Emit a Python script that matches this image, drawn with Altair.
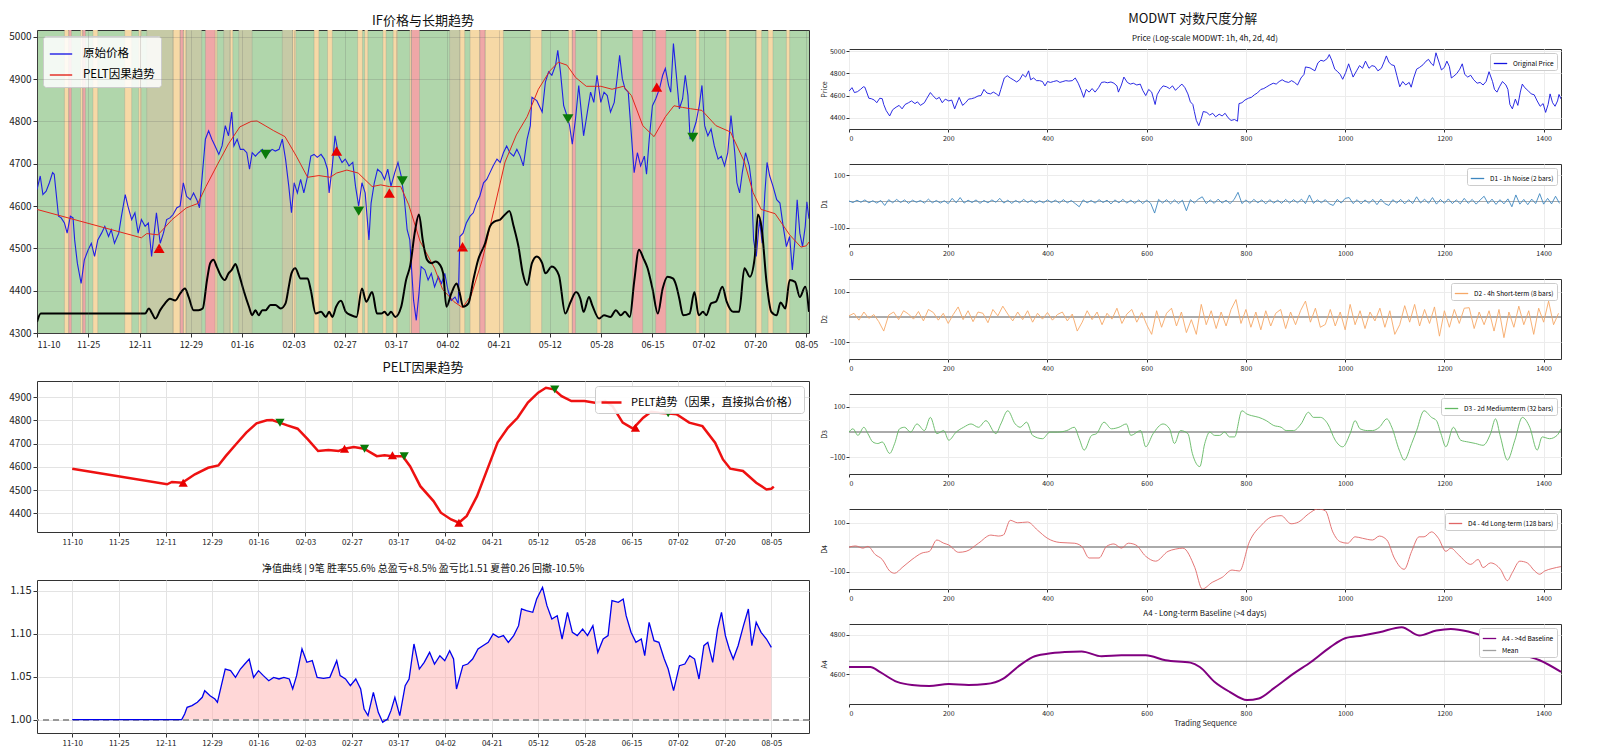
import altair as alt
import pandas as pd

FONT = "Noto Sans CJK SC"

# ---------------- x ticks (trading-bar index -> date label) ----------------
TICK_IDX = [0, 95, 191, 286, 381, 477, 572, 667, 763, 858, 953, 1049, 1144, 1239, 1335, 1430]
TICK_LBL = ["11-10", "11-25", "12-11", "12-29", "01-16", "02-03", "02-27", "03-17",
            "04-02", "04-21", "05-12", "05-28", "06-15", "07-02", "07-20", "08-05"]
LAST_BAR = 1435

# ---------------- original price ----------------
PRICE_I = [0, 6, 11, 17, 23, 29, 32, 40, 45, 51,
           56, 62, 67, 70, 75, 82, 88, 95, 101, 107,
           113, 120, 126, 133, 138, 144, 152, 157, 164, 169,
           176, 182, 188, 194, 201, 207, 213, 222, 229, 235,
           241, 247, 253, 260, 266, 272, 278, 285, 291, 297,
           302, 306, 313, 319, 325, 331, 338, 344, 350, 356,
           362, 366, 372, 378, 384, 390, 395, 400, 406, 412,
           419, 425, 431, 437, 443, 450, 456,
           462, 468, 473, 478, 484, 490, 496, 503, 509, 515,
           521, 528, 534, 540, 543, 549, 554, 561, 567, 573,
           580, 587, 592, 598, 604, 610, 617, 621, 627, 633,
           640, 646, 652, 658, 665, 671, 677, 683, 688, 693,
           696, 700, 705, 710, 714, 721, 727, 733, 739, 746,
           752, 758, 764, 770, 777, 783, 786, 792, 798, 805,
           811, 817, 823, 830, 836, 842, 848, 855, 861, 867,
           873, 879, 886, 892, 898, 904, 911, 917, 920, 929,
           939, 945, 951, 957, 964, 968, 973, 979, 985, 990,
           995, 1001, 1007, 1013, 1016, 1023, 1029, 1035, 1041, 1048,
           1054, 1060, 1066, 1073, 1079, 1083, 1088, 1093, 1099, 1104,
           1110, 1116, 1122, 1129, 1133, 1138, 1144, 1150, 1157, 1163,
           1168, 1174, 1178, 1183, 1189, 1194, 1200, 1205, 1210, 1214,
           1219, 1225, 1231, 1236, 1241, 1247, 1253, 1259, 1266, 1272,
           1278, 1284, 1290, 1297, 1301, 1306, 1311, 1317, 1324, 1328,
           1332, 1337, 1343, 1348, 1353, 1357, 1362, 1368, 1375, 1381,
           1387, 1393, 1399, 1404, 1409, 1413, 1418, 1423, 1428, 1431,
           1435]
PRICE_V = [4639, 4671, 4627, 4635, 4655, 4679, 4675, 4576, 4572, 4560,
           4536, 4576, 4572, 4520, 4465, 4417, 4473, 4496, 4512, 4481,
           4520, 4536, 4552, 4528, 4544, 4512, 4536, 4576, 4627, 4600,
           4568, 4584, 4536, 4568, 4552, 4560, 4481, 4584, 4512, 4536,
           4568, 4572, 4580, 4596, 4600, 4655, 4623, 4615, 4631, 4615,
           4596, 4655, 4758, 4778, 4758, 4742, 4722, 4742, 4790, 4766,
           4822, 4742, 4758, 4734, 4734, 4726, 4687, 4726, 4718, 4726,
           4734, 4718, 4726, 4734, 4730, 4734, 4758,
           4711, 4647, 4584, 4655, 4631, 4663, 4631, 4671, 4718, 4722,
           4715, 4722, 4711, 4687, 4631, 4695, 4766, 4718, 4703, 4711,
           4695, 4703, 4647, 4600, 4655, 4631, 4520, 4607, 4655, 4687,
           4679, 4663, 4687, 4647, 4679, 4703, 4671, 4615, 4544, 4520,
           4457, 4377, 4330, 4393, 4457, 4449, 4425, 4441, 4409, 4433,
           4417, 4441, 4401, 4377, 4385, 4370, 4528, 4536, 4560, 4576,
           4584, 4607, 4623, 4655, 4663, 4679, 4695, 4711, 4703, 4726,
           4742, 4726, 4718, 4734, 4718, 4695, 4758, 4790, 4857, 4849,
           4822, 4893, 4917, 4909, 4933, 4968, 4917, 4837, 4814, 4790,
           4746, 4806, 4885, 4806, 4766, 4822, 4869, 4845, 4909, 4845,
           4869, 4861, 4822, 4845, 4909, 4956, 4901, 4877, 4869, 4782,
           4679, 4726, 4695, 4718, 4675, 4758, 4837, 4853, 4877, 4909,
           4925, 4885, 4869, 4984, 4901, 4830, 4853, 4909, 4861, 4758,
           4774, 4798, 4837, 4885, 4790, 4766, 4782, 4742, 4711, 4718,
           4695, 4726, 4814, 4726, 4655, 4631, 4679, 4726, 4695, 4655,
           4520, 4481, 4568, 4512, 4631, 4703, 4671, 4647, 4615, 4607,
           4552, 4504, 4528, 4449, 4520, 4615, 4536, 4504, 4552, 4610,
           4570]

# ---------------- PELT causal trend ----------------
TREND_I = [0, 194, 204, 225, 251, 278, 299, 314, 335, 356,
           377, 398, 409, 424, 440, 461, 482, 503, 524, 545,
           557, 576, 597, 623, 639, 655, 676, 691, 712, 739,
           754, 775, 791, 807, 828, 849, 870, 891, 911, 932,
           953, 969, 985, 1001, 1021, 1048, 1069, 1090, 1105, 1126,
           1147, 1168, 1184, 1200, 1215, 1236, 1262, 1289, 1315, 1331,
           1346, 1372, 1399, 1420, 1430, 1435]
TREND_V = [4592, 4525, 4535, 4532, 4568, 4596, 4606, 4646, 4697, 4747,
           4787, 4800, 4801, 4790, 4778, 4764, 4718, 4668, 4672, 4668,
           4678, 4685, 4678, 4646, 4650, 4646, 4646, 4603, 4517, 4453,
           4403, 4374, 4360, 4389, 4474, 4589, 4704, 4768, 4811, 4876,
           4919, 4940, 4933, 4904, 4883, 4883, 4876, 4883, 4861, 4790,
           4764, 4811, 4837, 4833, 4830, 4826, 4790, 4775, 4704, 4632,
           4592, 4582, 4532, 4503, 4506, 4515]

# ---------------- black oscillator drawn on the price axis ----------------
OSC_I = [0, 7, 201, 208, 214, 220, 229, 238, 247, 257,
         266, 275, 282, 291, 300, 308, 316, 322, 328, 334,
         341, 349, 356, 362, 369, 375, 384, 394, 400, 406,
         412, 419, 425, 434, 443, 453, 462, 468, 473, 480,
         490, 503, 509, 518, 528, 537, 543, 549, 556, 565,
         574, 584, 594, 604, 612, 623, 632, 640, 646, 652,
         658, 666, 677, 686, 694, 702, 710, 717, 725, 733,
         741, 749, 755, 761, 770, 780, 786, 792, 802, 811,
         820, 833, 842, 851, 861, 870, 878, 886, 895, 903,
         911, 920, 929, 939, 945, 957, 970, 982, 992, 1002,
         1010, 1016, 1026, 1032, 1045, 1054, 1066, 1076, 1085, 1093,
         1102, 1110, 1119, 1127, 1135, 1144, 1154, 1163, 1172, 1182,
         1188, 1194, 1201, 1213, 1222, 1230, 1238, 1244, 1253, 1262,
         1274, 1282, 1294, 1305, 1315, 1325, 1334, 1340, 1347, 1356,
         1365, 1375, 1382, 1391, 1399, 1409, 1418, 1428, 1435]
OSC_V = [4326, 4346, 4346, 4358, 4346, 4334, 4354, 4370, 4381, 4377,
         4393, 4405, 4385, 4354, 4354, 4358, 4425, 4465, 4473, 4457,
         4437, 4425, 4441, 4449, 4463, 4441, 4401, 4362, 4342, 4354,
         4342, 4354, 4354, 4366, 4366, 4358, 4370, 4409, 4441, 4453,
         4429, 4429, 4401, 4346, 4350, 4338, 4350, 4338, 4362, 4376,
         4350, 4342, 4338, 4405, 4374, 4397, 4346, 4346, 4350, 4342,
         4350, 4338, 4362, 4425, 4461, 4536, 4580, 4520, 4473, 4465,
         4469, 4461, 4441, 4362, 4393, 4417, 4393, 4362, 4370, 4425,
         4473, 4512, 4552, 4564, 4568, 4580, 4588, 4552, 4504, 4441,
         4413, 4465, 4481, 4465, 4441, 4457, 4437, 4346, 4374, 4397,
         4381, 4350, 4385, 4366, 4334, 4342, 4338, 4354, 4342, 4350,
         4338, 4421, 4497, 4477, 4453, 4405, 4346, 4405, 4433, 4429,
         4413, 4381, 4342, 4346, 4397, 4342, 4350, 4342, 4370, 4374,
         4409, 4374, 4350, 4350, 4453, 4433, 4477, 4580, 4548, 4421,
         4350, 4342, 4372, 4358, 4425, 4421, 4385, 4409, 4350]

# ---------------- signals ----------------
LONG_I = [227, 557, 655, 791, 1152]
LONG_PRICE = [4500, 4730, 4631, 4504, 4881]
LONG_TREND = [4532, 4678, 4650, 4360, 4768]
SHORT_I = [425, 598, 679, 987, 1219]
SHORT_PRICE = [4722, 4588, 4659, 4806, 4762]
SHORT_TREND = [4790, 4678, 4646, 4933, 4830]

# ---------------- regime background (default = trend / green) ----------------
REG_S = [51, 59, 81, 85, 104, 163, 189, 204, 253, 266,
         272, 277, 313, 331, 347, 359, 375, 456, 475, 515,
         540, 596, 609, 643, 662, 693, 696, 767, 786, 805,
         823, 833, 917, 988, 995, 1041, 1107, 1150, 1225, 1281,
         1337, 1359, 1393]
REG_E = [59, 64, 85, 90, 113, 176, 194, 253, 266, 272,
         277, 306, 333, 335, 359, 364, 400, 475, 481, 524,
         549, 605, 615, 649, 670, 696, 711, 786, 795, 823,
         833, 867, 938, 995, 1001, 1048, 1126, 1169, 1231, 1287,
         1347, 1368, 1399]
REG_K = ["O", "R", "O", "R", "O", "O", "O", "T", "O", "R",
         "O", "T", "R", "O", "T", "O", "T", "T", "O", "O",
         "O", "O", "O", "O", "O", "O", "R", "T", "O", "O",
         "R", "O", "O", "O", "R", "O", "R", "R", "O", "O",
         "O", "O", "O"]

# ---------------- equity curve ----------------
EQ_I = [0, 224, 230, 235, 245, 256, 266, 271, 282, 292,
        297, 305, 313, 324, 334, 344, 353, 362, 371, 381,
        391, 402, 412, 423, 433, 444, 451, 459, 470, 480,
        491, 501, 514, 527, 541, 548, 559, 569, 580, 590,
        597, 605, 616, 626, 635, 645, 652, 660, 670, 681,
        689, 699, 710, 720, 731, 741, 752, 762, 772, 780,
        786, 799, 809, 819, 830, 840, 851, 861, 872, 882,
        892, 903, 913, 919, 929, 942, 950, 962, 971, 981,
        992, 1002, 1013, 1023, 1033, 1044, 1054, 1065, 1075, 1086,
        1096, 1104, 1117, 1127, 1133, 1143, 1153, 1164, 1171, 1180,
        1190, 1200, 1211, 1219, 1230, 1242, 1253, 1263, 1273, 1282,
        1292, 1300, 1310, 1320, 1328, 1336, 1344, 1352, 1362, 1373,
        1383, 1390, 1399, 1409, 1420, 1430]
EQ_V = [1.0, 1.0, 1.0066, 1.0143, 1.0163, 1.0202, 1.026, 1.0337, 1.0279, 1.024,
        1.0202, 1.0395, 1.0589, 1.057, 1.0492, 1.0589, 1.0647, 1.0705, 1.0492, 1.057,
        1.0512, 1.0453, 1.0492, 1.0473, 1.0492, 1.0473, 1.0357, 1.0512, 1.0822, 1.0667,
        1.0686, 1.0492, 1.0481, 1.0492, 1.0686, 1.0512, 1.0473, 1.0395, 1.0473, 1.0357,
        1.0124, 1.0047, 1.0318, 1.0085, 0.9969, 1.0008, 1.0105, 1.026, 1.0047, 1.0395,
        1.0473, 1.088, 1.0589, 1.0667, 1.0783, 1.0647, 1.0744, 1.0686, 1.0802, 1.0705,
        1.0357, 1.0628, 1.0647, 1.0705, 1.0822, 1.086, 1.0899, 1.0996, 1.0957, 1.0977,
        1.0899, 1.0977, 1.1093, 1.1287, 1.1267, 1.1248, 1.1403, 1.1539, 1.1326, 1.1171,
        1.1209, 1.0938, 1.1248, 1.1016, 1.0977, 1.1054, 1.0977, 1.1093, 1.0783, 1.0938,
        1.0977, 1.1384, 1.1364, 1.1403, 1.1209, 1.1016, 1.0899, 1.0938, 1.0744, 1.1132,
        1.0919, 1.0899, 1.0705, 1.0589, 1.0337, 1.0628, 1.0647, 1.0744, 1.0705, 1.0473,
        1.086, 1.0899, 1.0667, 1.1054, 1.1248, 1.0977, 1.0822, 1.0705, 1.086, 1.1093,
        1.1287, 1.086, 1.1132, 1.1016, 1.0938, 1.0841]

# ---------------- MODWT details (D1 every 8 bars, D2 every 10 bars) ----------------
D1_STEP = 8
D1_V = [2, -4, 5, -3, 6, -5, 3, -6, 4, -15,
        7, -5, 8, -4, 6, -7, 5, -3, 4, -6,
        9, -5, 4, -6, 3, -8, 12, -5, 15, -6,
        5, -4, 6, -7, 4, -5, 6, -3, 12, -6,
        5, -7, 4, -5, 8, -4, 5, -6, 3, -5,
        6, -4, 5, -6, 7, -5, 4, -8, -20, 6,
        -5, 4, -6, 7, -4, 5, -9, 6, -5, 8,
        -6, 5, -7, 6, -8, 5, -7, -44, 8, -6,
        7, -9, 6, -8, 5, -35, 7, -6, 9, 18,
        -8, 6, -7, 9, -6, 5, -8, 7, 35, -8,
        6, -7, 8, -5, 6, -9, 7, -6, 5, -7,
        8, -6, 7, -5, 9, -8, 25, -7, 6, -5,
        7, -9, -15, 8, -6, 12, 15, -8, 7, -9,
        6, -7, 8, -12, 9, -8, -15, 7, -6, 8,
        -9, 7, -8, 18, -6, 9, -7, 15, -10, 8,
        -7, 10, -8, 6, -9, 12, -7, 8, -10, 6,
        20, -8, 9, -11, 7, -9, 10, -20, 25, -10,
        8, -12, 9, -8, 30, -10, 12, -9, 20, -7]
D2_STEP = 10
D2_V = [5, 15, -12, 20, -5, 10, -18, -55, 8, 20,
        -10, 25, 12, -8, 22, -15, 30, 18, -12, 15,
        -25, 10, 40, -10, 25, -18, 20, 15, -22, 30,
        5, 43, 12, -15, 20, -10, 25, -20, 15, -8,
        18, -12, 10, 20, -15, 12, -55, -20, 25, -10,
        20, -30, 15, -8, 35, -25, 12, 30, -20, 18,
        -30, -68, 25, -40, 15, 35, -35, 20, -61, -10,
        -68, 50, -30, 25, -45, 20, -35, 30, 69, -25,
        30, -40, 20, -50, 25, -35, 15, 30, -45, 20,
        -30, 25, 63, -20, 35, -40, -29, 30, -35, 20,
        -50, 50, -30, 25, -45, 20, -15, 35, -40, 25,
        -68, -30, 45, -20, 50, -35, 30, -25, 40, -75,
        25, -40, 30, -25, 35, 37, -45, 20, -30, 25,
        -55, 30, -81, 20, -40, 43, -30, 25, -68, 35,
        -20, 63, -30, 15]
D3_I = [0, 8, 18, 30, 38, 48, 58, 67, 82, 92,
        102, 112, 124, 137, 152, 164, 177, 191, 201, 216,
        231, 246, 261, 276, 296, 306, 320, 335, 345, 358,
        370, 390, 405, 420, 439, 454, 464, 474, 489, 499,
        514, 529, 544, 559, 568, 588, 598, 613, 633, 646,
        656, 668, 683, 692, 707, 717, 727, 737, 747, 757,
        767, 777, 792, 802, 811, 826, 841, 856, 871, 881,
        896, 911, 926, 936, 950, 965, 980, 995, 1010, 1020,
        1030, 1045, 1055, 1069, 1084, 1094, 1109, 1119, 1134, 1144,
        1159, 1174, 1184, 1193, 1203, 1218, 1233, 1248, 1263, 1278,
        1293, 1303, 1313, 1327, 1342, 1357, 1372, 1387, 1397, 1412,
        1427, 1435]
D3_V = [0, 13, -13, 19, -6, -39, -45, -39, -84, -45,
        13, 19, 0, 32, 6, 58, -6, 6, -32, 0,
        19, 32, 19, 45, -6, 32, 84, 32, 19, 39,
        -13, -26, 0, 0, 6, 19, -26, -71, -13, -6,
        39, 13, 19, 32, -13, 6, -58, -6, 32, 13,
        -45, 6, -6, -84, -136, -45, 0, -13, -13, 0,
        -19, -19, 84, 71, 65, 58, 45, 26, 19, 6,
        6, 32, 78, 58, 58, 32, -32, -58, -6, 45,
        13, 6, 6, 19, 52, 19, -71, -110, -45, 6,
        84, 58, 45, -6, -58, 19, -32, -39, -45, -52,
        -6, 52, -19, -110, -32, 58, 19, -71, -19, -26,
        -13, 13]
D4_I = [0, 13, 28, 38, 53, 67, 82, 92, 107, 127,
        147, 162, 177, 191, 201, 221, 236, 261, 286, 301,
        311, 325, 340, 360, 380, 400, 425, 454, 469, 484,
        504, 519, 534, 549, 563, 578, 598, 618, 643, 658,
        673, 697, 712, 732, 752, 772, 787, 807, 831, 851,
        871, 891, 906, 926, 945, 960, 975, 990, 1005, 1020,
        1035, 1055, 1069, 1084, 1099, 1119, 1134, 1149, 1159, 1174,
        1188, 1203, 1213, 1228, 1253, 1268, 1278, 1293, 1313, 1327,
        1337, 1352, 1367, 1382, 1392, 1402, 1417, 1435]
D4_V = [0, 5, -4, 3, -30, -50, -97, -106, -83, -50,
        -24, -17, 29, 16, 9, -21, -17, 16, 49, 45,
        49, 109, 99, 102, 69, 36, 19, 16, 3, -44,
        -44, 3, 13, -4, 16, 9, -37, -57, -17, -8,
        -4, -83, -170, -143, -123, -93, -97, 22, 89, 122,
        128, 95, 102, 135, 155, 148, 62, 22, 16, 42,
        36, 29, 45, 29, -44, -90, -17, 42, 42, 62,
        36, -17, -4, -30, -70, -50, -83, -64, -90, -136,
        -103, -57, -64, -97, -110, -97, -87, -79]
A4_I = [0, 43, 62, 97, 127, 162, 201, 241, 276, 311,
        340, 370, 400, 435, 469, 509, 549, 598, 638, 688,
        707, 737, 767, 802, 826, 856, 896, 931, 970, 1000,
        1035, 1069, 1114, 1149, 1184, 1213, 1248, 1283, 1313, 1352,
        1392, 1435]
A4_V = [4637, 4637, 4612, 4561, 4545, 4540, 4550, 4545, 4550, 4578,
        4637, 4687, 4704, 4713, 4716, 4691, 4696, 4696, 4671, 4659,
        4637, 4561, 4511, 4469, 4477, 4528, 4603, 4662, 4738, 4783,
        4797, 4813, 4839, 4797, 4822, 4830, 4817, 4788, 4750, 4704,
        4671, 4612]
A4_MEAN = 4666

# ---------------- colours ----------------
C_GREEN = "#b0d6ab"
REG_COLORS = {"O": "#f6d9a6", "R": "#efa7a7", "T": "#c6caa6"}

# ---------------- layout ----------------
W_L, H_TOP, H_MID, H_BOT, GAP_L = 772, 303, 151, 153, 48
W_R, H_R, GAP_R = 712, 80, 35


def label_expr():
    e = "''"
    for v, l in reversed(list(zip(TICK_IDX, TICK_LBL))):
        e = f"datum.value == {v} ? '{l}' : {e}"
    return e


LBL = label_expr()

df_price = pd.DataFrame({"i": PRICE_I, "v": PRICE_V, "s": "原始价格"})
df_trend = pd.DataFrame({"i": TREND_I, "v": TREND_V, "s": "PELT因果趋势"})
df_trend2 = pd.DataFrame({"i": TREND_I, "v": TREND_V, "s": "PELT趋势（因果，直接拟合价格）"})
df_osc = pd.DataFrame({"i": OSC_I, "v": OSC_V})
df_long_top = pd.DataFrame({"i": LONG_I, "v": LONG_PRICE})
df_short_top = pd.DataFrame({"i": SHORT_I, "v": SHORT_PRICE})
df_long_mid = pd.DataFrame({"i": LONG_I, "v": LONG_TREND})
df_short_mid = pd.DataFrame({"i": SHORT_I, "v": SHORT_TREND})
df_reg = pd.DataFrame({"s": REG_S, "e": REG_E, "k": REG_K})
df_edges = pd.DataFrame({"x": REG_S + REG_E})
df_eq = pd.DataFrame({"i": EQ_I, "v": EQ_V})

# ================= left column =================
sc_x_top = alt.Scale(domain=[0, LAST_BAR], nice=False, zero=False)
ax_x_top = alt.Axis(values=TICK_IDX, labelExpr=LBL, grid=True, zindex=1, labelFontSize=9,
                    gridColor="#666", gridOpacity=0.22, tickSize=4, labelPadding=3)
ax_y_top = alt.Axis(values=list(range(4300, 5001, 100)), format="d", grid=True, zindex=1, labelFontSize=10,
                    gridColor="#666", gridOpacity=0.22, tickSize=4, labelPadding=2)
X_TOP = alt.X("i:Q", scale=sc_x_top, axis=ax_x_top, title=None)
Y_TOP = alt.Y("v:Q", scale=alt.Scale(domain=[4300, 5016], nice=False, zero=False), axis=ax_y_top, title=None)

leg_top = alt.Legend(title=None, orient="top-left", offset=6, fillColor="rgba(255,255,255,0.85)",
                     strokeColor="#cccccc", padding=6, cornerRadius=3, labelFontSize=11.5,
                     symbolType="stroke", symbolSize=500, symbolStrokeWidth=1.4, rowPadding=3,
                     labelOffset=10, labelLimit=0)
col_top = alt.Scale(domain=["原始价格", "PELT因果趋势"], range=["#1f1fe6", "#e3261c"])

bg = alt.Chart(df_reg).mark_rect(opacity=1).encode(
    x=alt.X("s:Q", scale=sc_x_top, axis=ax_x_top, title=None), x2="e:Q",
    fill=alt.Fill("k:N", scale=alt.Scale(domain=list(REG_COLORS), range=list(REG_COLORS.values())), legend=None))
edges = alt.Chart(df_edges).mark_rule(color="#777777", opacity=0.3, strokeWidth=0.7).encode(
    x=alt.X("x:Q", scale=sc_x_top, axis=ax_x_top, title=None))
price_l = alt.Chart(df_price).mark_line(strokeWidth=1.1, clip=True).encode(
    x=X_TOP, y=Y_TOP, color=alt.Color("s:N", scale=col_top, legend=leg_top))
trend_l = alt.Chart(df_trend).mark_line(strokeWidth=1, clip=True).encode(
    x=X_TOP, y=Y_TOP, color=alt.Color("s:N", scale=col_top, legend=leg_top))
osc_l = alt.Chart(df_osc).mark_line(color="black", strokeWidth=2, interpolate="monotone", clip=True).encode(
    x=X_TOP, y=Y_TOP)
up_top = alt.Chart(df_long_top).mark_point(shape="triangle-up", filled=True, size=120, color="#e80000", opacity=1).encode(
    x=X_TOP, y=Y_TOP)
dn_top = alt.Chart(df_short_top).mark_point(shape="triangle-down", filled=True, size=120, color="#0a7a0a", opacity=1).encode(
    x=X_TOP, y=Y_TOP)

top = alt.layer(bg, edges, price_l, trend_l, osc_l, up_top, dn_top).properties(
    width=W_L, height=H_TOP,
    title=alt.TitleParams("IF价格与长期趋势", fontSize=13, offset=2),
    view=alt.ViewBackground(fill=C_GREEN, stroke="#333"))

# ---- middle: PELT trend
sc_x_mid = alt.Scale(domain=[-72, LAST_BAR + 72], nice=False, zero=False)
ax_x_mid = alt.Axis(values=TICK_IDX, labelExpr=LBL, grid=True, labelFontSize=8, gridColor="#e3e3e3", tickSize=4)
X_MID = alt.X("i:Q", scale=sc_x_mid, axis=ax_x_mid, title=None)
Y_MID = alt.Y("v:Q", scale=alt.Scale(domain=[4320, 4969], nice=False, zero=False),
              axis=alt.Axis(values=list(range(4400, 4901, 100)), format="d", grid=True, labelFontSize=10,
                            gridColor="#e3e3e3", tickSize=4, labelPadding=2), title=None)
leg_mid = alt.Legend(title=None, orient="top-right", offset=5, fillColor="rgba(255,255,255,0.9)",
                     strokeColor="#cccccc", padding=5, cornerRadius=3, labelFontSize=11,
                     symbolType="stroke", symbolSize=400, symbolStrokeWidth=2.5, labelOffset=8, labelLimit=0)
trend_mid = alt.Chart(df_trend2).mark_line(strokeWidth=2.5).encode(
    x=X_MID, y=Y_MID,
    color=alt.Color("s:N", scale=alt.Scale(domain=["PELT趋势（因果，直接拟合价格）"], range=["#ee1111"]), legend=leg_mid))
up_mid = alt.Chart(df_long_mid).mark_point(shape="triangle-up", filled=True, size=85, color="#e80000", opacity=1).encode(
    x=X_MID, y=Y_MID)
dn_mid = alt.Chart(df_short_mid).mark_point(shape="triangle-down", filled=True, size=85, color="#0a7a0a", opacity=1).encode(
    x=X_MID, y=Y_MID)
mid = alt.layer(trend_mid, up_mid, dn_mid).properties(
    width=W_L, height=H_MID, title=alt.TitleParams("PELT因果趋势", fontSize=13, offset=6))

# ---- bottom: equity
Y_BOT = alt.Y("v:Q", scale=alt.Scale(domain=[0.9845, 1.1624], nice=False, zero=False),
              axis=alt.Axis(values=[1.0, 1.05, 1.1, 1.15], format=".2f", grid=True, labelFontSize=11,
                            gridColor="#e3e3e3", tickSize=4, labelPadding=2), title=None)
eq_area = alt.Chart(df_eq).mark_area(color="#ffb0b0", opacity=0.5).encode(x=X_MID, y=Y_BOT, y2=alt.datum(1.0))
eq_rule = alt.Chart(df_eq).mark_rule(color="#999999", strokeDash=[6, 4], strokeWidth=1.3).encode(y=alt.datum(1.0))
eq_line = alt.Chart(df_eq).mark_line(color="#0000ee", strokeWidth=1.3).encode(x=X_MID, y=Y_BOT)
bot = alt.layer(eq_area, eq_rule, eq_line).properties(
    width=W_L, height=H_BOT,
    title=alt.TitleParams("净值曲线 | 9笔 胜率55.6% 总盈亏+8.5% 盈亏比1.51 夏普0.26 回撤-10.5%", fontSize=10, offset=6))

left = alt.vconcat(top, mid, bot, spacing=GAP_L, bounds="flush").resolve_scale(color="independent")

# ================= right column (MODWT) =================
SC_X_R = alt.Scale(domain=[0, LAST_BAR], nice=False, zero=False)


def x_right(title=None):
    return alt.X("i:Q", scale=SC_X_R, title=title,
                 axis=alt.Axis(values=list(range(0, 1401, 200)), format="d", grid=True, labelFontSize=7,
                               gridColor="#ececec", tickSize=3, titleFontSize=7.5,
                               titleFontWeight="normal", titlePadding=3, labelOverlap=False))


def y_right(domain, ticks, title):
    return alt.Y("v:Q", scale=alt.Scale(domain=domain, nice=False, zero=False), title=title,
                 axis=alt.Axis(values=ticks, format="d", grid=True, labelFontSize=7, gridColor="#ececec",
                               tickSize=3, titleFontSize=7, titleFontWeight="normal", titlePadding=2,
                               labelPadding=1, labelOverlap=False))


def leg_r():
    return alt.Legend(title=None, orient="top-right", offset=4, fillColor="white", strokeColor="#cccccc",
                      padding=3, cornerRadius=2, labelFontSize=6.5, symbolType="stroke", symbolSize=180,
                      symbolStrokeWidth=1.3, labelOffset=5, rowPadding=1, labelLimit=0)


def detail_panel(df, label, color, ytitle, domain, width=1.0, interp="linear"):
    X = x_right()
    Y = y_right(domain, [-100, 0, 100], ytitle)
    zero = alt.Chart(df).mark_rule(color="#aaaaaa", strokeWidth=1.2, opacity=0.8).encode(y=alt.datum(0))
    line = alt.Chart(df).mark_line(strokeWidth=width, interpolate=interp, clip=True).encode(
        x=X, y=Y, color=alt.Color("s:N", scale=alt.Scale(domain=[label], range=[color]), legend=leg_r()))
    return alt.layer(zero, line).properties(width=W_R, height=H_R)


df_p = pd.DataFrame({"i": PRICE_I, "v": PRICE_V, "s": "Original Price"})
p_price = alt.Chart(df_p).mark_line(strokeWidth=0.9, clip=True).encode(
    x=x_right(), y=y_right([4300, 5018], [4400, 4600, 4800, 5000], "Price"),
    color=alt.Color("s:N", scale=alt.Scale(domain=["Original Price"], range=["#1414e0"]), legend=leg_r())
).properties(width=W_R, height=H_R,
             title=alt.TitleParams("Price (Log-scale MODWT: 1h, 4h, 2d, 4d)", fontSize=8, offset=4))

df_d1 = pd.DataFrame({"i": [k * D1_STEP for k in range(len(D1_V))], "v": D1_V, "s": "D1 - 1h Noise (2 bars)"})
df_d2 = pd.DataFrame({"i": [k * D2_STEP for k in range(len(D2_V))], "v": D2_V, "s": "D2 - 4h Short-term (8 bars)"})
df_d3 = pd.DataFrame({"i": D3_I, "v": D3_V, "s": "D3 - 2d Mediumterm (32 bars)"})
df_d4 = pd.DataFrame({"i": D4_I, "v": D4_V, "s": "D4 - 4d Long-term (128 bars)"})

p_d1 = detail_panel(df_d1, "D1 - 1h Noise (2 bars)", "#3d87c0", "D1", [-162, 143], 0.9)
p_d2 = detail_panel(df_d2, "D2 - 4h Short-term (8 bars)", "#f6a866", "D2", [-165, 150], 0.9)
p_d3 = detail_panel(df_d3, "D3 - 2d Mediumterm (32 bars)", "#62b862", "D3", [-165, 150], 0.9, "monotone")
p_d4 = detail_panel(df_d4, "D4 - 4d Long-term (128 bars)", "#e06666", "D4", [-170, 155], 0.9, "monotone")

df_a4 = pd.DataFrame({"i": A4_I, "v": A4_V, "s": "A4 - >4d Baseline"})
df_mean = pd.DataFrame({"v": [A4_MEAN], "s": ["Mean"]})
col_a4 = alt.Scale(domain=["A4 - >4d Baseline", "Mean"], range=["#800080", "#a0a0a0"])
Y_A4 = y_right([4449, 4855], [4600, 4800], "A4")
a4_mean = alt.Chart(df_mean).mark_rule(strokeWidth=1.2).encode(
    y=Y_A4, color=alt.Color("s:N", scale=col_a4, legend=leg_r()))
a4_line = alt.Chart(df_a4).mark_line(strokeWidth=2, interpolate="monotone").encode(
    x=x_right("Trading Sequence"), y=Y_A4, color=alt.Color("s:N", scale=col_a4, legend=leg_r()))
p_a4 = alt.layer(a4_mean, a4_line).properties(
    width=W_R, height=H_R,
    title=alt.TitleParams("A4 - Long-term Baseline (>4 days)", fontSize=8, offset=5))

right_inner = alt.vconcat(p_price, p_d1, p_d2, p_d3, p_d4, p_a4, spacing=GAP_R, bounds="flush"
                          ).resolve_scale(color="independent")
spacer = alt.Chart(pd.DataFrame({"i": [0]})).mark_point(opacity=0).encode(
    x=alt.X("i:Q", axis=None), y=alt.Y("i:Q", axis=None)
).properties(width=W_R, height=1, view=alt.ViewBackground(stroke="transparent"))
right = alt.vconcat(spacer, right_inner, spacing=0,
                    title=alt.TitleParams("MODWT 对数尺度分解", fontSize=13, offset=1, anchor="middle")
                    ).resolve_scale(color="independent")

chart = alt.hconcat(left, right, spacing=0).resolve_scale(color="independent").properties(
    padding={"left": 0, "top": 5, "right": 2, "bottom": 2}, background="white"
).configure(font=FONT).configure_view(stroke="#333333", strokeWidth=1).configure_axis(
    domain=False, tickColor="#333333", labelColor="#222222", labelFont=FONT, titleFont=FONT,
    titleColor="#222222"
).configure_title(font=FONT, fontWeight="normal", color="#111111").configure_legend(labelFont=FONT)

chart.save("out.html", embed_options={"renderer": "svg", "actions": False})
